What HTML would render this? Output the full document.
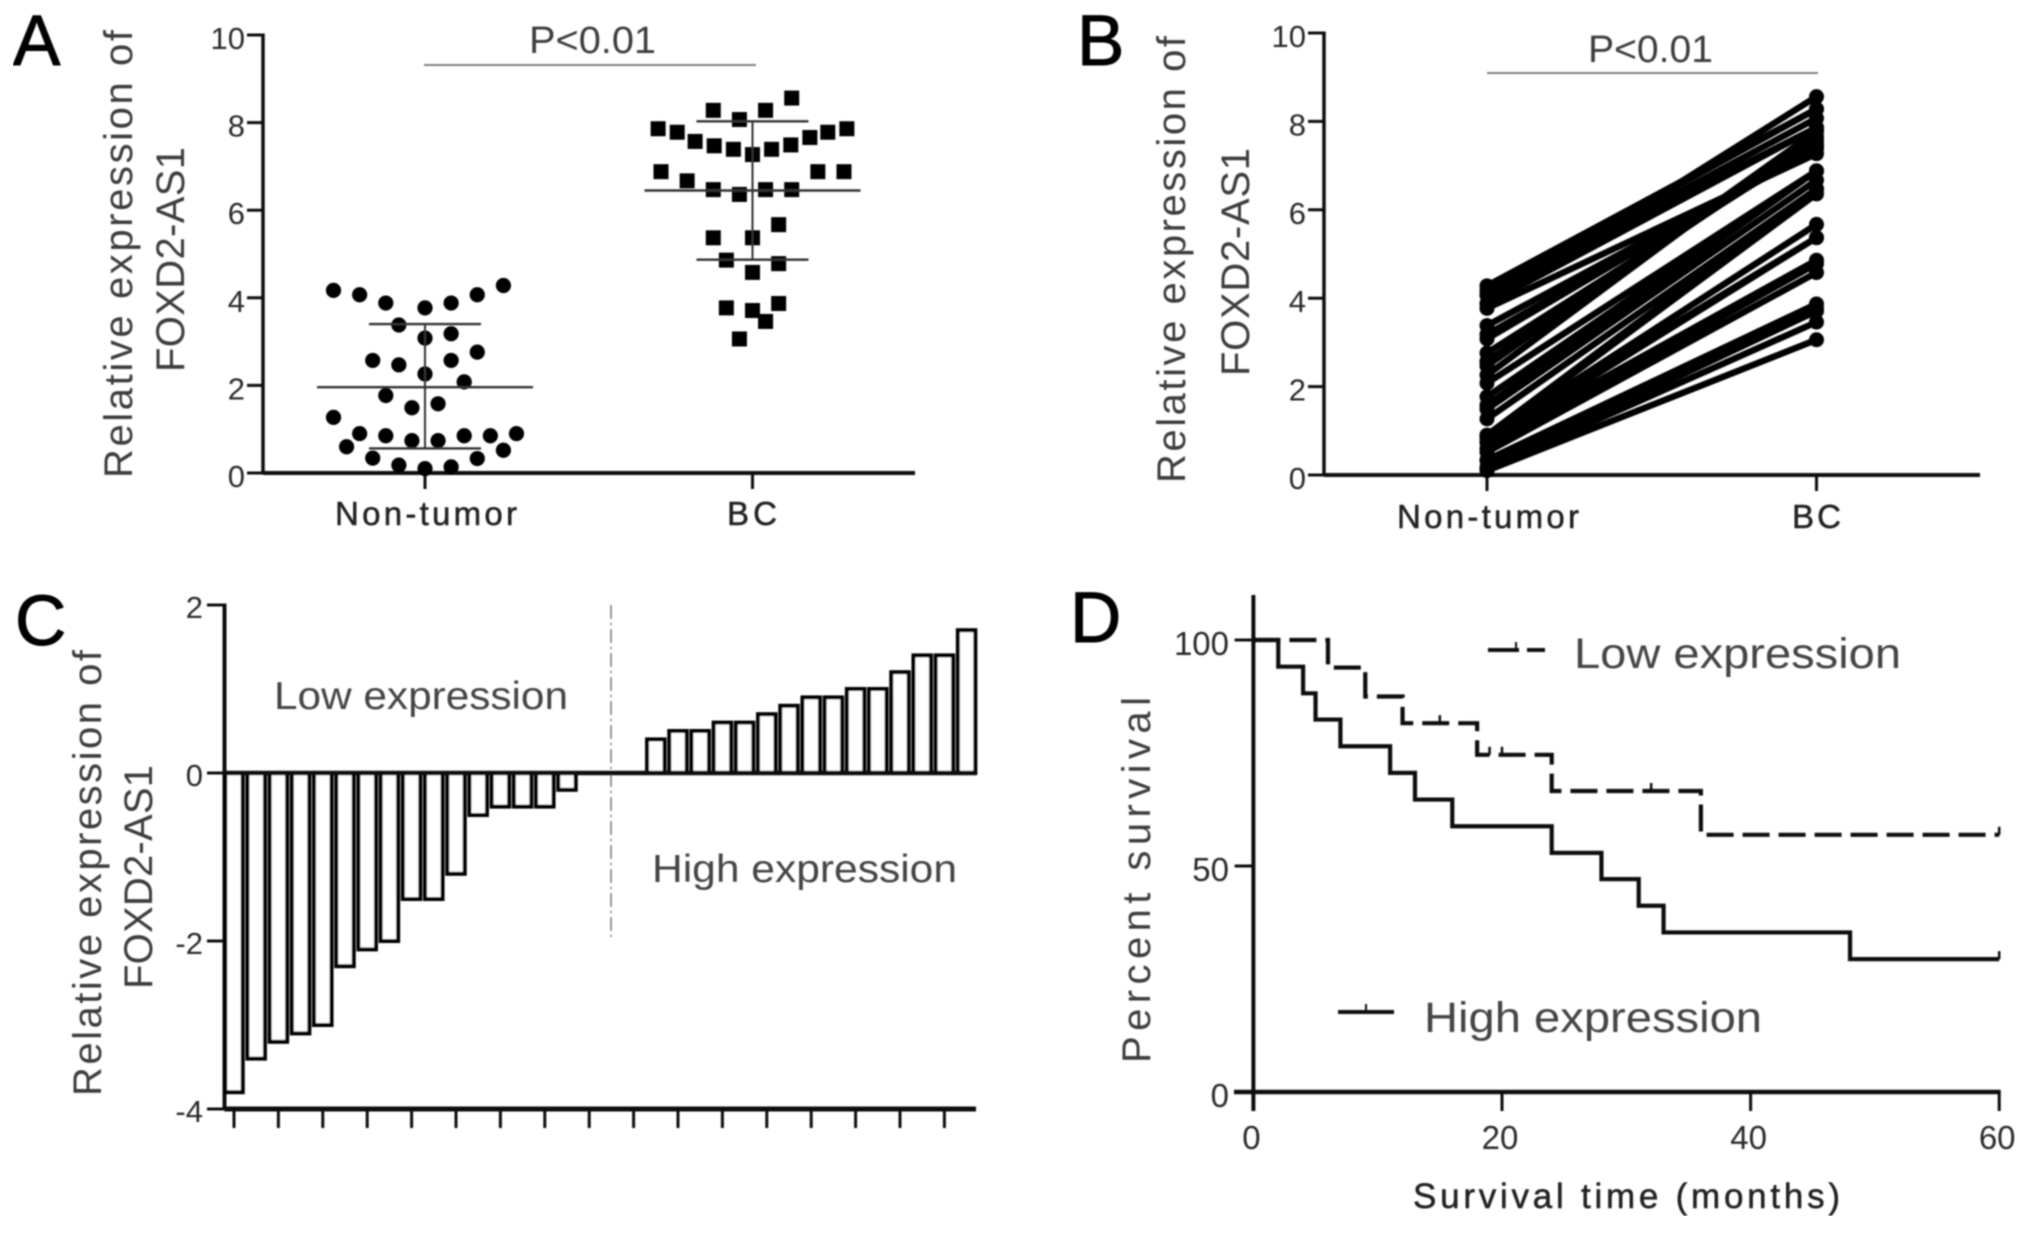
<!DOCTYPE html>
<html lang="en">
<head>
<meta charset="utf-8">
<title>FOXD2-AS1 expression figure</title>
<style>
html,body{margin:0;padding:0;background:#fff;}
svg{display:block;}
text{font-family:"Liberation Sans",sans-serif;fill:#3c3c3c;}
.letter{font-size:71px;fill:#000;stroke:#000;stroke-width:1px;}
.axis-title{font-size:40px;fill:#3c3c3c;}
.cat{font-size:33px;fill:#222;stroke:#222;stroke-width:.5px;}
.p{font-size:38px;fill:#3c3c3c;}
.note{font-size:39px;fill:#444;}
.tick{font-size:31px;fill:#2c2c2c;}
.tick-d{font-size:33px;fill:#2c2c2c;}
</style>
</head>
<body>
<svg id="fig" xmlns="http://www.w3.org/2000/svg" width="2031" height="1233" viewBox="0 0 2031 1233">
<defs><filter id="soft" x="0" y="0" width="100%" height="100%"><feGaussianBlur stdDeviation="0.8"/></filter></defs>
<rect width="2031" height="1233" fill="#fff"/>
<g id="root" filter="url(#soft)">
  <text class="letter" x="13" y="65">A</text>
  <text class="letter" x="1077" y="65">B</text>
  <text class="letter" x="15" y="645">C</text>
  <text class="letter" x="1070" y="642">D</text>

  <g id="panelA">
    <text class="axis-title" transform="translate(132,478) rotate(-90)" textLength="448" lengthAdjust="spacing">Relative expression of</text>
    <text class="axis-title" transform="translate(184,372) rotate(-90)" textLength="225" lengthAdjust="spacing">FOXD2-AS1</text>
    <text class="p" x="529" y="53" textLength="127" lengthAdjust="spacingAndGlyphs">P&lt;0.01</text>
    <line x1="424" x2="756" y1="65" y2="65" stroke="#808080" stroke-width="2"/>
    <text class="cat" x="335" y="525" textLength="182" lengthAdjust="spacing">Non-tumor</text>
    <text class="cat" x="727" y="525" textLength="50" lengthAdjust="spacing">BC</text>
  </g>

  <g id="panelB">
    <text class="axis-title" transform="translate(1185,483) rotate(-90)" textLength="447" lengthAdjust="spacing">Relative expression of</text>
    <text class="axis-title" transform="translate(1249,376) rotate(-90)" textLength="228" lengthAdjust="spacing">FOXD2-AS1</text>
    <text class="p" x="1588" y="62" textLength="125" lengthAdjust="spacingAndGlyphs">P&lt;0.01</text>
    <line x1="1487" x2="1818" y1="73" y2="73" stroke="#808080" stroke-width="2"/>
    <text class="cat" x="1397" y="528" textLength="182" lengthAdjust="spacing">Non-tumor</text>
    <text class="cat" x="1792" y="528" textLength="49" lengthAdjust="spacing">BC</text>
  </g>

  <g id="panelC">
    <text class="axis-title" transform="translate(101,1096) rotate(-90)" textLength="446" lengthAdjust="spacing">Relative expression of</text>
    <text class="axis-title" transform="translate(152,989) rotate(-90)" textLength="224" lengthAdjust="spacing">FOXD2-AS1</text>
    <text class="note" x="274" y="709" textLength="294" lengthAdjust="spacingAndGlyphs">Low expression</text>
    <text class="note" x="652" y="882" textLength="305" lengthAdjust="spacingAndGlyphs">High expression</text>
    <line x1="611" x2="611" y1="605" y2="940" stroke="#777" stroke-width="1.5" stroke-dasharray="14 4 2 4"/>
  </g>

  <g id="panelD">
    <text class="axis-title" transform="translate(1150,1063) rotate(-90)" textLength="366" lengthAdjust="spacing">Percent survival</text>
    <text class="cat" x="1413" y="1208" textLength="427" lengthAdjust="spacing" style="font-size:35px">Survival time (months)</text>
    <text class="note" x="1574" y="668" textLength="327" lengthAdjust="spacingAndGlyphs" style="font-size:43px">Low expression</text>
    <text class="note" x="1424" y="1032" textLength="338" lengthAdjust="spacingAndGlyphs" style="font-size:43px">High expression</text>
    <line x1="1488" x2="1545" y1="650" y2="650" stroke="#111" stroke-width="4" stroke-dasharray="31 8 18"/>
    <line x1="1516" x2="1516" y1="642" y2="650" stroke="#111" stroke-width="2"/>
    <line x1="1338" x2="1394" y1="1012" y2="1012" stroke="#111" stroke-width="4"/>
    <line x1="1366" x2="1366" y1="1004" y2="1012" stroke="#111" stroke-width="2"/>
  </g>
</g>
</svg>
<script>
// ---------- Panel A / B data ----------
const yTicksAB = [0, 2, 4, 6, 8, 10];
const nonTumorValues = [4.17,4.07,3.88,3.77,3.88,4.07,4.28,3.38,3.18,3.08,2.76,2.57,2.47,2.57,2.26,2.08,1.77,1.58,1.49,1.27,0.90,0.85,0.74,0.74,0.85,0.85,0.90,0.60,0.52,0.34,0.33,0.18,0.14,0.10];
const nonTumorSwarmSlots = [-7,-5,-3,0,2,4,6,-2,2,0,4,-4,-2,2,0,3,-3,1,-1,-7,-5,-3,-1,1,3,5,7,-6,6,-4,4,-2,2,0];
const bcValues = [8.56,8.28,8.28,8.07,7.86,7.78,7.57,7.47,7.39,7.27,7.39,7.49,7.66,7.78,7.86,6.88,6.67,6.47,6.36,6.47,6.47,6.88,6.88,5.67,5.37,5.37,4.86,4.78,4.58,3.77,3.87,3.71,3.46,3.06];
const bcSwarmSlots = [3,-3,1,-1,-7.22,-5.76,-4.39,-2.93,-1.46,0,1.46,2.93,4.39,5.76,7.22,-7,-5,-3,-1,1,3,5,7,2,-3,0,-2,2,0,-2,2,0,1,-1];
const nonTumorSummary = [1.96, 3.40, 0.56];   // mean, +SD, -SD
const bcSummary = [6.45, 8.03, 4.87];         // mean, +SD, -SD
const pairedNonTumor = [4.28,4.17,4.07,4.07,3.88,3.88,3.77,3.38,3.18,3.08,2.76,2.57,2.57,2.47,2.26,2.08,1.77,1.58,1.49,1.27,0.90,0.90,0.85,0.85,0.85,0.74,0.74,0.60,0.52,0.34,0.33,0.18,0.14,0.10];
const pairedBC = [8.28,8.28,8.07,7.86,8.56,7.86,7.27,7.39,7.39,7.47,7.49,7.57,7.66,7.78,7.78,6.88,6.88,6.88,6.67,6.47,6.47,6.47,6.36,5.67,5.37,5.37,4.86,4.78,4.58,3.87,3.77,3.71,3.46,3.06];

// ---------- Panel C data ----------
const yTicksC = [2, 0, -2, -4];
const barValues = [-3.8,-3.4,-3.2,-3.1,-3.0,-2.3,-2.1,-2.0,-1.5,-1.5,-1.2,-0.5,-0.4,-0.4,-0.4,-0.2,0,0,0,0.4,0.5,0.5,0.6,0.6,0.7,0.8,0.9,0.9,1.0,1.0,1.2,1.4,1.4,1.7];

// ---------- Panel D data ----------
const yTicksD = [0, 50, 100];
const xTicksD = [0, 20, 40, 60];
const highTimes = [0,2,4,5,7,11,13,16,24,28,31,33,48,60];
const highSurvival = [100,94.1,88.2,82.4,76.5,70.6,64.7,58.8,52.9,47.1,41.2,35.3,29.4,29.4];
const lowTimes = [0,6,9,12,18,24,36,60];
const lowSurvival = [100,93.9,87.5,81.6,74.6,66.6,56.9,56.9];
const highCensorTimes = [60];
const lowCensorTimes = [15,19,20,32,60];

const NS = 'http://www.w3.org/2000/svg';
function mk(tag, attrs, parent) {
  const el = document.createElementNS(NS, tag);
  for (const k in attrs) el.setAttribute(k, attrs[k]);
  parent.appendChild(el);
  return el;
}
function seg(parent, x1, y1, x2, y2, color, width) {
  return mk('line', {x1, y1, x2, y2, stroke: color, 'stroke-width': width}, parent);
}
const AX = '#111';

// ---------- Panel A ----------
const gA = document.getElementById('panelA');
const yA = v => 473 - v * 43.8;
const catA = [425, 752.5];
const slotA = 13.07;
let el;
el = seg(gA, 263, yA(10) - 1.5, 263, yA(0) + 1.5, AX, 3.5);


el = seg(gA, 263, yA(0), 915, yA(0), AX, 4);


yTicksAB.forEach(t => {
  const m = seg(gA, 247, yA(t), 263, yA(t), AX, 3);
  
  
  const l = mk('text', {x: 245, y: yA(t) + 14, 'text-anchor': 'end', class: 'tick'}, gA);
  l.textContent = t;
  
  
});
catA.forEach(cx => {
  const m = seg(gA, cx, yA(0), cx, 489, AX, 3);
  
  
});
nonTumorValues.forEach((v, i) => {
  const c = mk('circle', {cx: catA[0] + nonTumorSwarmSlots[i] * slotA, cy: yA(v), r: 7.6, fill: '#000'}, gA);
  
  
});
bcValues.forEach((v, i) => {
  const r = mk('rect', {x: catA[1] + bcSwarmSlots[i] * slotA - 7.5, y: yA(v) - 7.5, width: 15, height: 15, fill: '#000'}, gA);
  
  
});
function summary(cx, s) {
  const col = '#333';
  let a = seg(gA, cx, yA(s[1]), cx, yA(s[2]), col, 2);
  
  
  a = seg(gA, cx - 108, yA(s[0]), cx + 108, yA(s[0]), col, 2.4);
  
  
  a = seg(gA, cx - 56, yA(s[1]), cx + 56, yA(s[1]), col, 2.4);
  
  
  a = seg(gA, cx - 56, yA(s[2]), cx + 56, yA(s[2]), col, 2.4);
  
  
}
summary(catA[0], nonTumorSummary);
summary(catA[1], bcSummary);

// ---------- Panel B ----------
const gB = document.getElementById('panelB');
const yB = v => 475 - v * 44.2;
const catB = [1487, 1816.5];
el = seg(gB, 1324, yB(10) - 1.5, 1324, yB(0) + 1.5, AX, 3.5);


el = seg(gB, 1324, yB(0), 1980, yB(0), AX, 4);


yTicksAB.forEach(t => {
  const m = seg(gB, 1308, yB(t), 1324, yB(t), AX, 3);
  
  
  const l = mk('text', {x: 1306, y: yB(t) + 14, 'text-anchor': 'end', class: 'tick'}, gB);
  l.textContent = t;
  
  
});
catB.forEach(cx => {
  const m = seg(gB, cx, yB(0), cx, 491, AX, 3);
  
  
});
pairedNonTumor.forEach((v, i) => {
  const w = pairedBC[i];
  const p = seg(gB, catB[0], yB(v), catB[1], yB(w), '#000', 6.5);
  
  
  const a = mk('circle', {cx: catB[0], cy: yB(v), r: 7.5, fill: '#000'}, gB);
  
  
  const b = mk('circle', {cx: catB[1], cy: yB(w), r: 7.5, fill: '#000'}, gB);
  
  
});

// ---------- Panel C ----------
const gC = document.getElementById('panelC');
const yC = v => 773 - v * 84;
const xC = i => 234 + i * 22.2;
el = seg(gC, 224.5, yC(2) - 1.5, 224.5, yC(-4) + 1.5, AX, 4);


yTicksC.forEach(t => {
  const m = seg(gC, 207, yC(t), 224.5, yC(t), AX, 3);
  
  
  const l = mk('text', {x: 203, y: yC(t) + 13, 'text-anchor': 'end', class: 'tick'}, gC);
  l.textContent = t;
  
  
});
barValues.forEach((v, i) => {
  const r = mk('rect', {x: xC(i) - 8.75, y: Math.min(yC(v), yC(0)), width: 17.5, height: Math.abs(yC(v) - yC(0)), fill: '#fff', stroke: '#000', 'stroke-width': 4}, gC);
  
  
  if (i % 2 === 0) {
    const m = seg(gC, xC(i), yC(-4), xC(i), 1128, AX, 3);
    
    
  }
});
el = seg(gC, 224.5, yC(0), 976, yC(0), AX, 4.5);


el = seg(gC, 224.5, yC(-4), 976, yC(-4), AX, 5);



// ---------- Panel D ----------
const gD = document.getElementById('panelD');
const xD = t => 1253.4 + t * 12.43;
const yD = s => 1092 - s * 4.52;
el = seg(gD, xD(0), 595, xD(0), 1111, AX, 4);


el = seg(gD, 1234, yD(0), xD(60) + 1.5, yD(0), AX, 4.5);


yTicksD.forEach(t => {
  const m = seg(gD, 1234.6, yD(t), xD(0), yD(t), AX, 3);
  
  
  const l = mk('text', {x: 1229, y: yD(t) + 15, 'text-anchor': 'end', class: 'tick-d'}, gD);
  l.textContent = t;
  
  
});
xTicksD.forEach(t => {
  const m = seg(gD, xD(t), yD(0), xD(t), 1111, AX, 3);
  
  
  const l = mk('text', {x: xD(t) - 2, y: 1149, 'text-anchor': 'middle', class: 'tick-d'}, gD);
  l.textContent = t;
  
  
});
function stepPath(times, surv) {
  let d = 'M' + xD(times[0]) + ' ' + yD(surv[0]);
  for (let i = 1; i < times.length; i++) {
    d += 'L' + xD(times[i]) + ' ' + yD(surv[i - 1]) + 'L' + xD(times[i]) + ' ' + yD(surv[i]);
  }
  return d;
}
function survAt(times, surv, t) {
  let s = surv[0];
  times.forEach((tt, i) => { if (tt <= t) s = surv[i]; });
  return s;
}
el = mk('path', {d: stepPath(lowTimes, lowSurvival), fill: 'none', stroke: '#111', 'stroke-width': 4.2, 'stroke-dasharray': '27 9'}, gD);


el = mk('path', {d: stepPath(highTimes, highSurvival), fill: 'none', stroke: '#111', 'stroke-width': 4.2}, gD);


lowCensorTimes.forEach(t => {
  const s = survAt(lowTimes, lowSurvival, t);
  const m = seg(gD, xD(t), yD(s), xD(t), yD(s) - 8, '#111', 2.5);
  
  
});
highCensorTimes.forEach(t => {
  const s = survAt(highTimes, highSurvival, t);
  const m = seg(gD, xD(t), yD(s), xD(t), yD(s) - 8, '#111', 2.5);
  
  
});
</script>
</body>
</html>
